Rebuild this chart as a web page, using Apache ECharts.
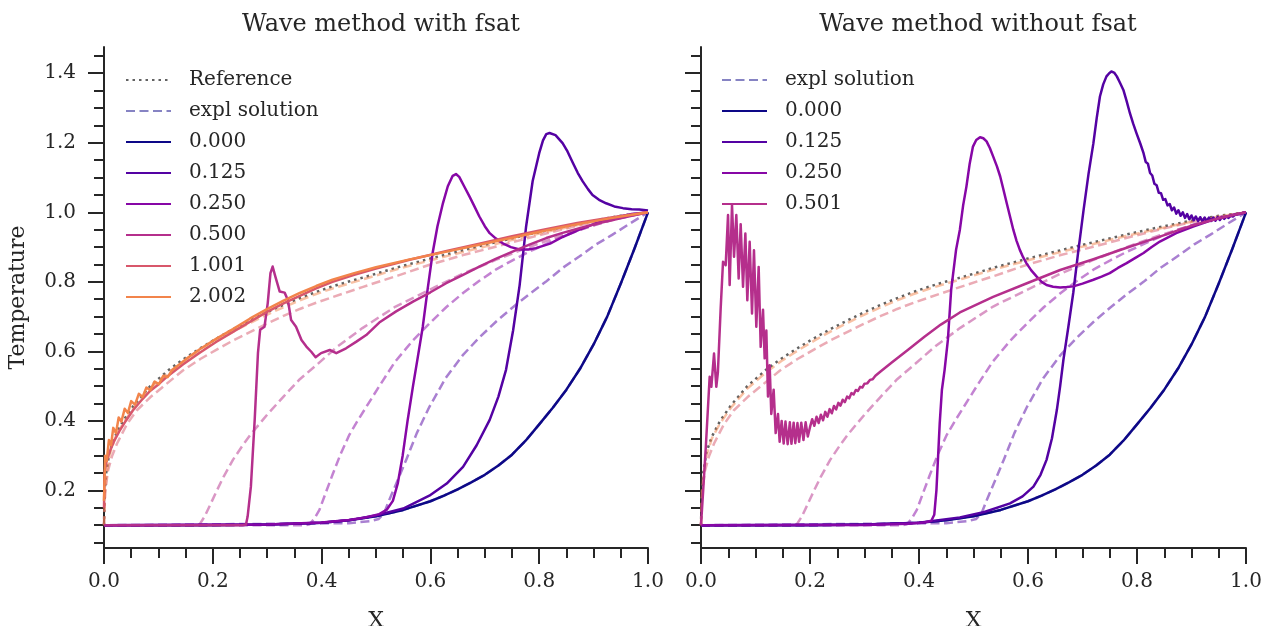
<!DOCTYPE html>
<html>
<head>
<meta charset="utf-8">
<script src="https://cdn.jsdelivr.net/npm/echarts@6.0.0/dist/echarts.min.js"></script>
<style>html,body{margin:0;padding:0;background:#fff}#main{width:1265px;height:626px}</style>
</head>
<body>
<div id="main"></div>
<script>
// temperature profiles, as [x, T] pairs
var initial = [[0,0.1],[0.2,0.1],[0.3,0.102],[0.35,0.104],[0.4,0.107],[0.45,0.114],[0.5,0.126],[0.55,0.144],[0.6,0.169],[0.625,0.185],[0.65,0.203],[0.675,0.223],[0.7,0.245],[0.725,0.272],[0.75,0.303],[0.775,0.343],[0.8,0.39],[0.825,0.438],[0.85,0.49],[0.875,0.55],[0.9,0.62],[0.925,0.7],[0.95,0.795],[0.975,0.895],[1,1]];

var reference = [[0,0.1],[0.001,0.19],[0.004,0.25],[0.01,0.31],[0.02,0.355],[0.035,0.4],[0.055,0.445],[0.085,0.5],[0.12,0.548],[0.15,0.582],[0.18,0.612],[0.21,0.64],[0.24,0.666],[0.27,0.69],[0.3,0.713],[0.33,0.734],[0.36,0.753],[0.39,0.771],[0.42,0.787],[0.45,0.801],[0.48,0.814],[0.54,0.842],[0.6,0.867],[0.66,0.891],[0.72,0.914],[0.78,0.936],[0.84,0.957],[0.9,0.976],[0.95,0.99],[1,1]];

// explicit solution (dashed), same in both panels
var explT1 = [[0,0.1],[0.45,0.106],[0.49,0.112],[0.505,0.118],[0.515,0.135],[0.525,0.175],[0.54,0.23],[0.556,0.29],[0.575,0.365],[0.598,0.44],[0.628,0.523],[0.66,0.59],[0.69,0.64],[0.721,0.686],[0.75,0.725],[0.782,0.765],[0.812,0.8],[0.843,0.84],[0.873,0.872],[0.905,0.908],[0.934,0.935],[0.965,0.966],[1,1]];
var explT2 = [[0,0.1],[0.37,0.1],[0.378,0.103],[0.387,0.12],[0.396,0.144],[0.408,0.195],[0.42,0.245],[0.435,0.305],[0.451,0.36],[0.466,0.4],[0.482,0.44],[0.506,0.5],[0.535,0.57],[0.568,0.632],[0.6,0.683],[0.629,0.727],[0.66,0.768],[0.69,0.803],[0.72,0.835],[0.751,0.862],[0.782,0.887],[0.813,0.909],[0.843,0.93],[0.874,0.949],[0.905,0.965],[0.935,0.979],[0.97,0.991],[1,1]];
var explT3 = [[0,0.1],[0.17,0.1],[0.176,0.103],[0.185,0.125],[0.195,0.158],[0.206,0.195],[0.22,0.24],[0.237,0.288],[0.255,0.33],[0.27,0.362],[0.3,0.418],[0.33,0.47],[0.36,0.52],[0.39,0.56],[0.43,0.615],[0.475,0.667],[0.536,0.729],[0.598,0.777],[0.659,0.823],[0.72,0.863],[0.781,0.9],[0.842,0.934],[0.903,0.964],[0.95,0.984],[1,1]];
var explT4 = [[0,0.1],[0.002,0.19],[0.007,0.255],[0.015,0.3],[0.024,0.335],[0.042,0.39],[0.06,0.43],[0.085,0.468],[0.116,0.508],[0.145,0.545],[0.177,0.578],[0.208,0.606],[0.238,0.632],[0.27,0.657],[0.3,0.68],[0.33,0.702],[0.36,0.722],[0.39,0.74],[0.42,0.756],[0.475,0.785],[0.54,0.818],[0.6,0.85],[0.66,0.877],[0.72,0.901],[0.78,0.926],[0.84,0.95],[0.9,0.972],[0.95,0.987],[1,1]];
var explT5 = [[0,0.1],[0.002,0.2],[0.005,0.25],[0.01,0.3],[0.02,0.35],[0.035,0.393],[0.055,0.438],[0.085,0.493],[0.12,0.541],[0.15,0.575],[0.18,0.605],[0.21,0.633],[0.24,0.659],[0.27,0.683],[0.3,0.706],[0.33,0.727],[0.36,0.747],[0.39,0.765],[0.42,0.781],[0.45,0.795],[0.48,0.809],[0.54,0.837],[0.6,0.862],[0.66,0.886],[0.72,0.909],[0.78,0.932],[0.84,0.953],[0.9,0.973],[0.95,0.988],[1,1]];

// wave method with fsat
var withT1 = [[0,0.1],[0.3,0.102],[0.4,0.107],[0.45,0.114],[0.5,0.128],[0.55,0.148],[0.598,0.185],[0.63,0.22],[0.66,0.268],[0.685,0.33],[0.709,0.403],[0.725,0.47],[0.739,0.547],[0.752,0.66],[0.764,0.79],[0.776,0.96],[0.788,1.09],[0.8,1.17],[0.807,1.207],[0.813,1.225],[0.819,1.228],[0.83,1.222],[0.843,1.199],[0.852,1.175],[0.862,1.142],[0.871,1.113],[0.88,1.089],[0.89,1.066],[0.898,1.05],[0.91,1.036],[0.923,1.026],[0.938,1.017],[0.954,1.012],[0.97,1.009],[0.984,1.008],[1,1.005]];
var withT2 = [[0,0.1],[0.3,0.102],[0.4,0.108],[0.45,0.115],[0.48,0.122],[0.506,0.132],[0.52,0.145],[0.531,0.17],[0.54,0.22],[0.549,0.3],[0.558,0.4],[0.568,0.5],[0.577,0.585],[0.586,0.671],[0.595,0.78],[0.604,0.882],[0.613,0.96],[0.623,1.026],[0.632,1.075],[0.641,1.105],[0.647,1.11],[0.653,1.102],[0.662,1.075],[0.672,1.045],[0.68,1.02],[0.69,0.988],[0.7,0.96],[0.709,0.94],[0.72,0.925],[0.733,0.911],[0.748,0.9],[0.764,0.893],[0.78,0.893],[0.794,0.897],[0.82,0.91],[0.843,0.929],[0.874,0.95],[0.905,0.969],[0.935,0.984],[0.97,0.995],[1,1]];
var withT3 = [[0,0.1],[0.255,0.1],[0.261,0.102],[0.264,0.125],[0.27,0.211],[0.277,0.403],[0.283,0.595],[0.287,0.662],[0.295,0.671],[0.301,0.739],[0.306,0.825],[0.31,0.844],[0.315,0.815],[0.323,0.772],[0.332,0.769],[0.338,0.748],[0.344,0.69],[0.353,0.671],[0.363,0.633],[0.372,0.614],[0.381,0.599],[0.389,0.583],[0.399,0.595],[0.415,0.604],[0.427,0.595],[0.445,0.609],[0.464,0.628],[0.482,0.647],[0.506,0.683],[0.537,0.715],[0.568,0.743],[0.6,0.77],[0.629,0.796],[0.66,0.82],[0.69,0.844],[0.72,0.866],[0.751,0.887],[0.782,0.907],[0.813,0.926],[0.843,0.941],[0.874,0.954],[0.905,0.967],[0.935,0.978],[0.97,0.99],[1,1]];
var withT4 = [[0,0.15],[0.001,0.25],[0.004,0.28],[0.01,0.31],[0.018,0.34],[0.028,0.37],[0.04,0.4],[0.053,0.43],[0.068,0.458],[0.084,0.485],[0.1,0.505],[0.114,0.525],[0.145,0.562],[0.176,0.596],[0.206,0.627],[0.237,0.656],[0.268,0.685],[0.298,0.712],[0.33,0.738],[0.36,0.76],[0.39,0.781],[0.42,0.8],[0.46,0.82],[0.5,0.838],[0.56,0.863],[0.63,0.889],[0.69,0.91],[0.75,0.931],[0.81,0.951],[0.87,0.969],[0.935,0.986],[1,1]];
var withT5 = [[0,0.17],[0.002,0.3],[0.005,0.285],[0.009,0.345],[0.013,0.33],[0.017,0.38],[0.022,0.365],[0.027,0.41],[0.032,0.398],[0.038,0.435],[0.044,0.423],[0.05,0.457],[0.057,0.447],[0.064,0.478],[0.071,0.469],[0.078,0.496],[0.085,0.488],[0.093,0.513],[0.101,0.506],[0.109,0.53],[0.117,0.526],[0.125,0.546],[0.15,0.577],[0.176,0.606],[0.206,0.636],[0.237,0.664],[0.268,0.694],[0.298,0.72],[0.33,0.746],[0.36,0.768],[0.39,0.788],[0.42,0.806],[0.46,0.825],[0.5,0.842],[0.56,0.864],[0.63,0.887],[0.69,0.907],[0.75,0.927],[0.81,0.947],[0.87,0.966],[0.935,0.984],[1,1]];

// wave method without fsat
var withoutT1 = [[0,0.1],[0.3,0.102],[0.4,0.107],[0.475,0.122],[0.52,0.138],[0.567,0.163],[0.59,0.183],[0.61,0.211],[0.623,0.245],[0.634,0.288],[0.644,0.35],[0.653,0.432],[0.659,0.5],[0.665,0.576],[0.674,0.67],[0.683,0.768],[0.692,0.885],[0.702,1.007],[0.711,1.11],[0.72,1.199],[0.726,1.27],[0.732,1.333],[0.738,1.368],[0.744,1.391],[0.749,1.4],[0.753,1.405],[0.758,1.402],[0.763,1.391],[0.769,1.372],[0.775,1.352],[0.781,1.32],[0.787,1.285],[0.793,1.255],[0.799,1.228],[0.806,1.198],[0.812,1.17],[0.816,1.145],[0.82,1.14],[0.824,1.113],[0.828,1.106],[0.832,1.082],[0.836,1.078],[0.84,1.056],[0.844,1.055],[0.848,1.036],[0.852,1.038],[0.856,1.02],[0.86,1.024],[0.864,1.006],[0.868,1.014],[0.872,0.996],[0.876,1.006],[0.88,0.99],[0.884,1.0],[0.888,0.984],[0.892,0.995],[0.896,0.98],[0.9,0.991],[0.904,0.977],[0.908,0.988],[0.912,0.975],[0.916,0.986],[0.92,0.974],[0.924,0.985],[0.928,0.974],[0.932,0.985],[0.936,0.975],[0.94,0.985],[0.944,0.976],[0.948,0.986],[0.952,0.978],[0.956,0.987],[0.96,0.981],[0.964,0.988],[0.968,0.984],[0.972,0.99],[0.976,0.988],[0.98,0.993],[0.99,0.996],[1,1]];
var withoutT2 = [[0,0.1],[0.3,0.101],[0.38,0.104],[0.41,0.108],[0.4226,0.113],[0.428,0.13],[0.432,0.201],[0.435,0.297],[0.438,0.393],[0.442,0.489],[0.447,0.547],[0.453,0.633],[0.459,0.777],[0.468,0.892],[0.475,0.95],[0.481,1.02],[0.487,1.074],[0.493,1.14],[0.499,1.189],[0.505,1.208],[0.512,1.216],[0.518,1.213],[0.524,1.204],[0.53,1.185],[0.536,1.161],[0.543,1.132],[0.549,1.103],[0.555,1.065],[0.561,1.026],[0.567,0.988],[0.573,0.95],[0.579,0.918],[0.585,0.892],[0.591,0.871],[0.597,0.854],[0.606,0.833],[0.616,0.815],[0.625,0.8],[0.634,0.791],[0.646,0.786],[0.659,0.784],[0.671,0.785],[0.683,0.787],[0.7,0.795],[0.72,0.806],[0.735,0.815],[0.75,0.825],[0.765,0.84],[0.781,0.854],[0.797,0.869],[0.812,0.883],[0.827,0.9],[0.842,0.916],[0.872,0.94],[0.903,0.959],[0.935,0.976],[0.97,0.99],[1,1]];
var withoutT3 = [[0,0.1],[0.004,0.2],[0.009,0.33],[0.0159,0.527],[0.019,0.498],[0.0239,0.594],[0.0281,0.498],[0.031,0.54],[0.036,0.72],[0.0404,0.858],[0.0453,0.848],[0.0496,0.992],[0.0526,0.791],[0.0569,1.021],[0.0606,0.872],[0.0648,0.992],[0.0691,0.81],[0.0728,0.966],[0.0771,0.786],[0.0814,0.939],[0.085,0.747],[0.0893,0.915],[0.0936,0.709],[0.0972,0.891],[0.1015,0.671],[0.1058,0.843],[0.1095,0.613],[0.1138,0.72],[0.1168,0.58],[0.1199,0.66],[0.1229,0.47],[0.126,0.56],[0.129,0.42],[0.1333,0.49],[0.137,0.365],[0.1413,0.42],[0.1443,0.34],[0.148,0.4],[0.1517,0.335],[0.155,0.398],[0.159,0.333],[0.163,0.396],[0.166,0.334],[0.17,0.395],[0.173,0.336],[0.177,0.394],[0.18,0.34],[0.184,0.395],[0.188,0.345],[0.192,0.396],[0.196,0.355],[0.2,0.382],[0.204,0.405],[0.208,0.386],[0.212,0.412],[0.216,0.394],[0.22,0.418],[0.224,0.402],[0.228,0.426],[0.232,0.412],[0.236,0.434],[0.24,0.422],[0.244,0.443],[0.248,0.433],[0.252,0.452],[0.256,0.444],[0.26,0.461],[0.264,0.454],[0.268,0.47],[0.272,0.465],[0.276,0.48],[0.28,0.476],[0.284,0.489],[0.288,0.486],[0.292,0.498],[0.296,0.496],[0.3,0.507],[0.305,0.508],[0.31,0.518],[0.315,0.52],[0.32,0.53],[0.33,0.543],[0.35,0.568],[0.38,0.605],[0.41,0.642],[0.44,0.677],[0.475,0.712],[0.536,0.757],[0.598,0.796],[0.659,0.834],[0.72,0.865],[0.781,0.898],[0.842,0.93],[0.903,0.963],[0.95,0.983],[1,1]];

var xMajor = [0, 0.2, 0.4, 0.6, 0.8, 1.0];
var xMinor = [0.05, 0.1, 0.15, 0.25, 0.3, 0.35, 0.45, 0.5, 0.55, 0.65, 0.7, 0.75, 0.85, 0.9, 0.95];
var yMajor = [0.2, 0.4, 0.6, 0.8, 1.0, 1.2, 1.4];
var yMinor = [0.05, 0.1, 0.15, 0.25, 0.3, 0.35, 0.45, 0.5, 0.55, 0.65, 0.7, 0.75, 0.85, 0.9, 0.95, 1.05, 1.1, 1.15, 1.25, 1.3, 1.35, 1.45];

var timeColors = ['#0d0887', '#5402a3', '#8707a6', '#b52f8c', '#d8576b', '#f2844b'];
var expl = [initial, explT1, explT2, explT3, explT4, explT5];

var font = 'DejaVu Serif';
var ink = '#262626';

function fade(hex) {
    var r = parseInt(hex.slice(1, 3), 16), g = parseInt(hex.slice(3, 5), 16), b = parseInt(hex.slice(5, 7), 16);
    return 'rgba(' + r + ',' + g + ',' + b + ',0.5)';
}

function curve(name, data, panel, color, type, z) {
    return {
        type: 'line', name: name, data: data,
        xAxisIndex: panel * 2, yAxisIndex: panel * 2,
        symbol: 'none', showSymbol: false, z: z,
        lineStyle: { color: color, width: 2.5, type: type, join: 'round' },
        itemStyle: { color: color },
        emphasis: { disabled: true }
    };
}

var series = [];
[0, 1].forEach(function (p) {
    series.push(curve('Reference', reference, p, 'rgba(70,70,70,0.85)', [2.5, 4], 2));
    expl.forEach(function (d, i) {
        series.push(curve('expl solution', d, p, fade(timeColors[i]), [9, 4.5], 3));
    });
});
series.push(curve('0.000', initial, 0, timeColors[0], 'solid', 5));
series.push(curve('0.125', withT1, 0, timeColors[1], 'solid', 5));
series.push(curve('0.250', withT2, 0, timeColors[2], 'solid', 5));
series.push(curve('0.500', withT3, 0, timeColors[3], 'solid', 5));
series.push(curve('1.001', withT4, 0, timeColors[4], 'solid', 5));
series.push(curve('2.002', withT5, 0, timeColors[5], 'solid', 5));
series.push(curve('0.000', initial, 1, timeColors[0], 'solid', 5));
series.push(curve('0.125', withoutT1, 1, timeColors[1], 'solid', 5));
series.push(curve('0.250', withoutT2, 1, timeColors[2], 'solid', 5));
series.push(curve('0.501', withoutT3, 1, timeColors[3], 'solid', 5));

var grids = [
    { left: 104, top: 47, width: 544, height: 501, outerBoundsMode: 'none' },
    { left: 701, top: 47, width: 545, height: 501, outerBoundsMode: 'none' }
];

function xAxis(i, major) {
    var ax = {
        type: 'value', gridIndex: i, min: 0, max: 1, position: 'bottom',
        axisLine: { show: major, lineStyle: { color: ink, width: 2 } },
        axisTick: { show: true, customValues: major ? xMajor : xMinor, length: major ? 16 : 10, lineStyle: { color: ink, width: 2 } },
        axisLabel: { show: major, customValues: xMajor, margin: 24, fontFamily: font, fontSize: 20, color: ink, formatter: function (v) { return v.toFixed(1); } },
        splitLine: { show: false }
    };
    if (major) {
        ax.name = 'X';
        ax.nameLocation = 'middle';
        ax.nameGap = 62;
        ax.nameTextStyle = { fontFamily: font, fontSize: 22, color: ink };
    }
    return ax;
}

function yAxis(i, major) {
    var ax = {
        type: 'value', gridIndex: i, min: 0.0345, max: 1.4755, position: 'left',
        axisLine: { show: major, lineStyle: { color: ink, width: 2 } },
        axisTick: { show: true, customValues: major ? yMajor : yMinor, length: major ? 16 : 10, lineStyle: { color: ink, width: 2 } },
        axisLabel: { show: major && i === 0, customValues: yMajor, margin: 28, fontFamily: font, fontSize: 20, color: ink, formatter: function (v) { return v.toFixed(1); } },
        splitLine: { show: false }
    };
    if (major && i === 0) {
        ax.name = 'Temperature';
        ax.nameLocation = 'middle';
        ax.nameGap = 75;
        ax.nameTextStyle = { fontFamily: font, fontSize: 22, color: ink };
    }
    return ax;
}

function legend(left, names) {
    return {
        orient: 'vertical', left: left, top: 70, padding: 0,
        itemWidth: 45, itemHeight: 20, itemGap: 11,
        selectedMode: false, data: names,
        itemStyle: { opacity: 0 },
        textStyle: { fontFamily: font, fontSize: 20, color: ink, padding: [0, 0, 0, 13] }
    };
}

var chart = echarts.init(document.getElementById('main'));
chart.setOption({
    animation: false,
    backgroundColor: '#fff',
    title: [
        { text: 'Wave method with fsat', left: 376, top: 8, textAlign: 'center', textStyle: { fontFamily: font, fontSize: 24, fontWeight: 'normal', color: ink } },
        { text: 'Wave method without fsat', left: 973, top: 8, textAlign: 'center', textStyle: { fontFamily: font, fontSize: 24, fontWeight: 'normal', color: ink } }
    ],
    legend: [
        legend(125, ['Reference', 'expl solution', '0.000', '0.125', '0.250', '0.500', '1.001', '2.002']),
        legend(721, ['expl solution', '0.000', '0.125', '0.250', '0.501'])
    ],
    grid: grids,
    // per panel: main axis (labels, major ticks) followed by a minor-tick axis
    xAxis: [xAxis(0, true), xAxis(0, false), xAxis(1, true), xAxis(1, false)],
    yAxis: [yAxis(0, true), yAxis(0, false), yAxis(1, true), yAxis(1, false)],
    series: series
});
</script>
</body>
</html>
